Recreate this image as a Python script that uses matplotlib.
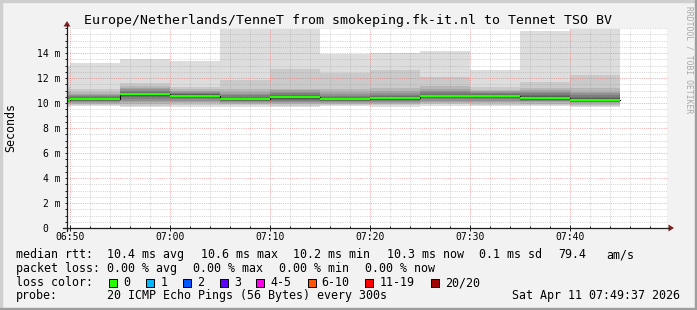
import matplotlib
matplotlib.use('Agg')
import matplotlib.pyplot as plt
import matplotlib.transforms as mtransforms
from matplotlib.patches import Rectangle, Polygon
from matplotlib.lines import Line2D

# ---------------- data ----------------
title = "Europe/Netherlands/TenneT from smokeping.fk-it.nl to Tennet TSO BV"
view_start = "06:49:42"
view_end = "07:49:42"
step_min = 5
bin_end = ['06:50', '06:55', '07:00', '07:05', '07:10', '07:15',
           '07:20', '07:25', '07:30', '07:35', '07:40', '07:45']
median_ms = [10.25, 10.33, 10.72, 10.58, 10.33, 10.47, 10.32, 10.39, 10.56, 10.58, 10.43, 10.26]
pings_ms = [
    [9.72, 9.82, 9.90, 9.98, 10.05, 10.10, 10.15, 10.19, 10.22, 10.24, 10.26, 10.30, 10.36, 10.44, 10.55, 10.68, 10.85, 11.00, 11.30, 13.00],
    [9.76, 9.86, 9.94, 10.02, 10.09, 10.15, 10.20, 10.25, 10.29, 10.32, 10.34, 10.38, 10.43, 10.50, 10.58, 10.66, 10.76, 10.90, 11.10, 13.18],
    [9.65, 9.80, 9.95, 10.08, 10.20, 10.32, 10.45, 10.55, 10.64, 10.70, 10.74, 10.78, 10.84, 10.92, 11.00, 11.10, 11.22, 11.35, 11.57, 13.52],
    [9.72, 9.85, 9.98, 10.10, 10.20, 10.30, 10.38, 10.46, 10.52, 10.56, 10.60, 10.64, 10.70, 10.76, 10.84, 10.92, 11.00, 11.12, 11.30, 13.36],
    [9.72, 9.82, 9.92, 10.00, 10.08, 10.15, 10.20, 10.25, 10.29, 10.32, 10.34, 10.38, 10.44, 10.52, 10.62, 10.74, 10.90, 11.10, 11.84, 15.90],
    [9.65, 9.80, 9.92, 10.02, 10.12, 10.20, 10.28, 10.35, 10.40, 10.45, 10.49, 10.54, 10.60, 10.68, 10.78, 10.90, 11.02, 11.15, 12.72, 15.92],
    [9.74, 9.84, 9.93, 10.01, 10.08, 10.14, 10.20, 10.25, 10.28, 10.31, 10.33, 10.37, 10.43, 10.50, 10.60, 10.72, 10.88, 11.15, 12.42, 13.90],
    [9.72, 9.83, 9.93, 10.02, 10.10, 10.17, 10.23, 10.28, 10.33, 10.37, 10.41, 10.45, 10.50, 10.58, 10.68, 10.80, 10.95, 11.18, 12.64, 14.03],
    [9.80, 9.90, 10.00, 10.10, 10.20, 10.30, 10.38, 10.45, 10.50, 10.54, 10.58, 10.62, 10.68, 10.75, 10.85, 10.98, 11.10, 11.40, 12.10, 14.16],
    [9.76, 9.88, 9.98, 10.10, 10.20, 10.30, 10.38, 10.45, 10.51, 10.56, 10.60, 10.64, 10.68, 10.74, 10.80, 10.87, 10.95, 11.05, 11.25, 12.64],
    [9.76, 9.86, 9.96, 10.05, 10.13, 10.20, 10.27, 10.33, 10.38, 10.42, 10.45, 10.50, 10.58, 10.68, 10.80, 10.92, 11.05, 11.20, 11.70, 15.76],
    [9.65, 9.78, 9.88, 9.97, 10.05, 10.12, 10.17, 10.21, 10.24, 10.26, 10.29, 10.34, 10.42, 10.52, 10.65, 10.80, 10.90, 11.20, 12.22, 15.92],
]
x_tick_labels = ['06:50', '07:00', '07:10', '07:20', '07:30', '07:40']
x_minor_step_min = 2
y_ticks_ms = [0, 2, 4, 6, 8, 10, 12, 14]
y_minor_step_ms = 0.5
y_max_ms = 16
ylabel = "Seconds"
stat_rtt = ['10.4 ms avg', '10.6 ms max', '10.2 ms min', '10.3 ms now', '0.1 ms sd', '79.4', 'am/s']
stat_loss = ['0.00 % avg', '0.00 % max', '0.00 % min', '0.00 % now']
loss_labels = ['0', '1', '2', '3', '4-5', '6-10', '11-19', '20/20']
loss_colors = ['#26ff00', '#00b8ff', '#0059ff', '#5e00ff', '#ff00ea', '#ff5500', '#ff0000', '#a10000']
probe_text = "20 ICMP Echo Pings (56 Bytes) every 300s"
stamp_text = "Sat Apr 11 07:49:37 2026"
watermark = "RRDTOOL / TOBI OETIKER"


def to_min(s):
    parts = [int(p) for p in s.split(':')]
    while len(parts) < 3:
        parts.append(0)
    return (parts[0] - 6) * 60 + parts[1] + parts[2] / 60.0


# ---------------- figure ----------------
W, H = 697, 310
DPI = 100
MONO = 'DejaVu Sans Mono'
plt.rcParams['font.family'] = MONO

fig = plt.figure(figsize=(W / DPI, H / DPI), dpi=DPI, facecolor='#f2f2f2')


def fx(x):
    return x / W


def fy(y):
    return 1 - y / H


# border shading
fig.patches.append(Rectangle((0, fy(2)), 1, 2 / H, transform=fig.transFigure, color='#cfcfcf', zorder=0))
fig.patches.append(Rectangle((0, 0), 2 / W, 1, transform=fig.transFigure, color='#cfcfcf', zorder=0))
fig.patches.append(Rectangle((0, 0), 1, 2 / H, transform=fig.transFigure, color='#9e9e9e', zorder=0))
fig.patches.append(Rectangle((1 - 2 / W, 0), 2 / W, 1, transform=fig.transFigure, color='#9e9e9e', zorder=0))

ax_l, ax_r, ax_t, ax_b = 67, 667, 28, 228
ax = fig.add_axes([fx(ax_l), fy(ax_b), (ax_r - ax_l) / W, (ax_b - ax_t) / H])
ax.set_facecolor('white')
for s in ax.spines.values():
    s.set_visible(False)

x0, x1 = to_min(view_start), to_min(view_end)
ax.set_xlim(x0, x1)
ax.set_ylim(0, y_max_ms)

# smoke
ends = [to_min(b) for b in bin_end]
xs = [e - step_min for e in ends] + [ends[-1]]
n = len(pings_ms[0])
half = n // 2
for ibot in range(half):
    itop = n - 1 - ibot
    level = int(190 / half * (half - (ibot + 1))) + 50
    col = '#%02x%02x%02x' % (level, level, level)
    lo = [p[ibot] for p in pings_ms]
    hi = [p[itop] for p in pings_ms]
    lo = lo + [lo[-1]]
    hi = hi + [hi[-1]]
    ax.fill_between(xs, lo, hi, step='post', color=col, linewidth=0, zorder=1)

# median
med_ext = median_ms + [median_ms[-1]]
ax.step(xs, med_ext, where='post', color='black', lw=0.8, zorder=4)
ax.hlines(median_ms, [e - step_min for e in ends], ends, color=loss_colors[0], lw=1.5, zorder=5)

# grid
xt = [to_min(t) for t in x_tick_labels]
ax.set_xticks(xt)
ax.set_xticklabels(x_tick_labels)
minor_x = []
m = int(x0) + 1
while m < x1:
    if m % x_minor_step_min == 0:
        minor_x.append(m)
    m += 1
ax.set_xticks(minor_x, minor=True)
ax.set_yticks(y_ticks_ms)
ax.set_yticklabels([])
minor_y = [i * y_minor_step_ms for i in range(int(y_max_ms / y_minor_step_ms) + 1)]
ax.set_yticks(minor_y, minor=True)
ax.set_axisbelow(False)
ax.grid(which='minor', color='#8f8f8f', alpha=0.38, lw=0.72, linestyle=(0, (1, 1.2)), zorder=3)
ax.grid(which='major', color=(0.87, 0.31, 0.31), alpha=0.45, lw=0.72, linestyle=(0, (1, 1.2)), zorder=3)

ax.tick_params(axis='x', which='major', direction='inout', length=4.3, width=0.72, color='#1f1f1f',
               pad=0.8, labelsize=7, labelcolor='black')
ax.tick_params(axis='x', which='minor', direction='in', length=1.5, width=0.72, color='#1f1f1f')
ax.tick_params(axis='y', which='both', direction='out', length=1.5, width=0.72, color='#1f1f1f')
for lab in ax.get_xticklabels():
    lab.set_family(MONO)

# y tick labels drawn at the tick values
ytrans = mtransforms.blended_transform_factory(fig.transFigure, ax.transData)
for v in y_ticks_ms:
    if v == 0:
        ax.text(fx(48.5), v, "0", transform=ytrans, ha='right', va='center_baseline',
                fontsize=7, family=MONO, clip_on=False)
    else:
        ax.text(fx(60.5), v, "%d m" % v, transform=ytrans, ha='right', va='center_baseline',
                fontsize=7, family=MONO, clip_on=False)

# axis lines and arrows
fig.add_artist(Line2D([fx(67), fx(67)], [fy(231), fy(25)], color='#1f1f1f', lw=0.9))
fig.add_artist(Line2D([fx(63), fx(669)], [fy(228), fy(228)], color='#1f1f1f', lw=0.9))
fig.patches.append(Polygon([(fx(63.5), fy(26.5)), (fx(70.5), fy(26.5)), (fx(67), fy(21))],
                           closed=True, transform=fig.transFigure, color='#801f1f', lw=0))
fig.patches.append(Polygon([(fx(668.5), fy(224.5)), (fx(668.5), fy(231.5)), (fx(674), fy(228))],
                           closed=True, transform=fig.transFigure, color='#801f1f', lw=0))

# title, labels
fig.text(fx(348), fy(24), title, ha='center', va='baseline', fontsize=9.5, family=MONO)
fig.text(fx(10.5), fy(128), ylabel, rotation=90, ha='center', va='center', fontsize=8.4, family=MONO)
fig.text(fx(689), fy(60), watermark, rotation=-90, ha='center', va='center', fontsize=5.8,
         family=MONO, color='#a8a8a8')

# legend
LFS = 8.4
base = [258, 272, 286, 299.5]
fig.text(fx(16), fy(base[0]), "median rtt:", fontsize=LFS, va='baseline', family=MONO)
for s, x in zip(stat_rtt, [107.3, 200.7, 293.3, 386.7, 479.3, 558.3, 606.7]):
    fig.text(fx(x), fy(base[0]), s, fontsize=LFS, va='baseline', family=MONO)
fig.text(fx(16), fy(base[1]), "packet loss:", fontsize=LFS, va='baseline', family=MONO)
for s, x in zip(stat_loss, [107.3, 193.3, 279.3, 365.0]):
    fig.text(fx(x), fy(base[1]), s, fontsize=LFS, va='baseline', family=MONO)
fig.text(fx(16), fy(base[2]), "loss color:", fontsize=LFS, va='baseline', family=MONO)
box_x = [108.5, 145.5, 182.5, 219.5, 256, 307.5, 365, 431]
lab_x = [123, 160.5, 197, 234, 270.5, 321.5, 380, 445]
for lab, col, bx, lx in zip(loss_labels, loss_colors, box_x, lab_x):
    fig.patches.append(Rectangle((fx(bx), fy(286.5)), 8 / W, 8 / H, transform=fig.transFigure,
                                 facecolor=col, edgecolor='black', lw=0.72))
    fig.text(fx(lx), fy(base[2]), lab, fontsize=LFS, va='baseline', family=MONO)
fig.text(fx(16), fy(base[3]), "probe:", fontsize=LFS, va='baseline', family=MONO)
fig.text(fx(107.3), fy(base[3]), probe_text, fontsize=LFS, va='baseline', family=MONO)
fig.text(fx(680.5), fy(base[3]), stamp_text, fontsize=LFS, va='baseline', ha='right', family=MONO)

fig.savefig('out.png', dpi=DPI, facecolor=fig.get_facecolor())
